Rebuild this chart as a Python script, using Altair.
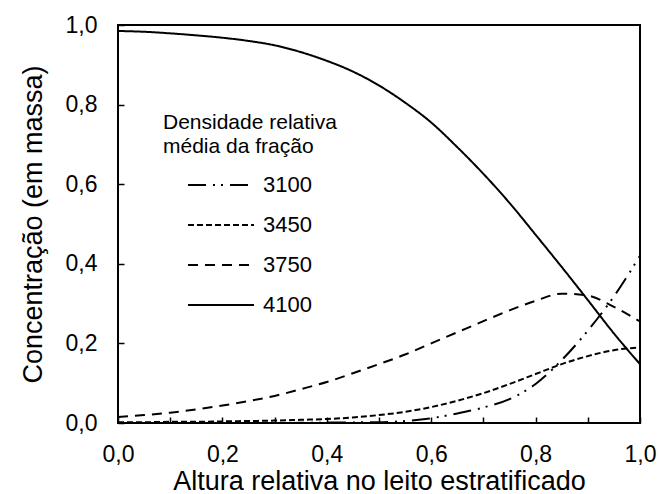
import altair as alt
import pandas as pd

# Relative height in the stratified bed
altura = [0.0, 0.05, 0.1, 0.15, 0.2, 0.25, 0.3, 0.35, 0.4, 0.45, 0.5,
          0.55, 0.6, 0.65, 0.7, 0.75, 0.8, 0.85, 0.9, 0.95, 1.0]

# Mass concentration for each density fraction
c3100 = [0.0, 0.0, 0.0, 0.0, 0.0, 0.0, 0.0, 0.0005, 0.001, 0.0015, 0.002,
         0.005, 0.012, 0.024, 0.039, 0.06, 0.098, 0.158, 0.232, 0.318, 0.42]
c3450 = [0.002, 0.002, 0.003, 0.003, 0.004, 0.005, 0.006, 0.008, 0.01, 0.014, 0.02,
         0.028, 0.04, 0.056, 0.075, 0.098, 0.123, 0.148, 0.168, 0.183, 0.19]
c3750 = [0.015, 0.02, 0.026, 0.034, 0.044, 0.055, 0.068, 0.085, 0.103, 0.125, 0.148,
         0.172, 0.2, 0.228, 0.256, 0.283, 0.307, 0.325, 0.32, 0.292, 0.255]
c4100 = [0.985, 0.983, 0.979, 0.974, 0.968, 0.96, 0.949, 0.932, 0.91, 0.883, 0.848,
         0.805, 0.755, 0.693, 0.626, 0.553, 0.473, 0.392, 0.309, 0.225, 0.148]

series_names = ["3100", "3450", "3750", "4100"]
series_values = [c3100, c3450, c3750, c4100]
dashes = [[18, 7, 2, 6, 2, 7], [6, 3], [10, 7], [1, 0]]

x_labels = [0.0, 0.2, 0.4, 0.6, 0.8, 1.0]
x_minor = [0.0, 0.1, 0.2, 0.3, 0.4, 0.5, 0.6, 0.7, 0.8, 0.9, 1.0]
y_labels = [0.0, 0.2, 0.4, 0.6, 0.8, 1.0]

rows = []
for name, vals in zip(series_names, series_values):
    for xv, yv in zip(altura, vals):
        rows.append({"x": xv, "y": yv, "serie": name})
df = pd.DataFrame(rows)

FONT = "Liberation Sans"
label_expr = "replace(format(datum.value, '.1f'), '.', ',')"

xscale = alt.Scale(domain=[0, 1], nice=False, zero=False)
yscale = alt.Scale(domain=[0, 1], nice=False, zero=False)

base = alt.Chart(df)

lines = base.mark_line(color="black", strokeWidth=2, interpolate="monotone").encode(
    x=alt.X("x:Q", scale=xscale,
            axis=alt.Axis(values=x_labels, labelExpr=label_expr,
                          title="Altura relativa no leito estratificado",
                          ticks=False, tickSize=0, domain=False, grid=False,
                          labelFlush=False, labelOverlap=False,
                          labelFontSize=23, titleFontSize=27, labelPadding=20,
                          titlePadding=2, labelFont=FONT, titleFont=FONT,
                          labelColor="black", titleColor="black",
                          titleFontWeight="normal")),
    y=alt.Y("y:Q", scale=yscale,
            axis=alt.Axis(values=y_labels, labelExpr=label_expr,
                          title="Concentração (em massa)",
                          ticks=False, tickSize=0, domain=False, grid=False,
                          labelFlush=False, labelOverlap=False,
                          labelFontSize=23, titleFontSize=27, labelPadding=21,
                          titlePadding=18, labelFont=FONT, titleFont=FONT,
                          labelColor="black", titleColor="black",
                          titleFontWeight="normal")),
    strokeDash=alt.StrokeDash(
        "serie:N",
        scale=alt.Scale(domain=series_names, range=dashes),
        legend=alt.Legend(
            title=["Densidade relativa", "média da fração"],
            orient="none", legendX=45, legendY=87,
            symbolType="stroke", symbolSize=4356, symbolStrokeColor="black",
            symbolStrokeWidth=2, symbolOffset=24, labelOffset=8,
            labelFontSize=22, labelFont=FONT, labelColor="black",
            titleFontSize=21, titleFont=FONT, titleColor="black",
            titleFontWeight="normal", titleLineHeight=24, titlePadding=17,
            clipHeight=22, rowPadding=18, padding=0,
        ),
    ),
)

ticks = base.mark_line(opacity=0).encode(
    x=alt.X("x:Q", scale=xscale,
            axis=alt.Axis(orient="bottom", offset=-6, tickSize=6, labels=False,
                          domain=False, grid=False, title=None, values=x_minor,
                          tickColor="black", tickWidth=1.5)),
    y=alt.Y("y:Q", scale=yscale,
            axis=alt.Axis(orient="left", offset=-6, tickSize=6, labels=False,
                          domain=False, grid=False, title=None, values=y_labels,
                          tickColor="black", tickWidth=1.5)),
)

chart = alt.layer(lines, ticks).resolve_axis(
    x="independent", y="independent"
).properties(
    width=522, height=398,
    autosize=alt.AutoSizeParams(type="none"),
    padding={"left": 118, "top": 25, "right": 19, "bottom": 71},
    background="white",
).configure_view(stroke="black", strokeWidth=2)

chart.save("out.html", embed_options={"renderer": "svg", "actions": False})
